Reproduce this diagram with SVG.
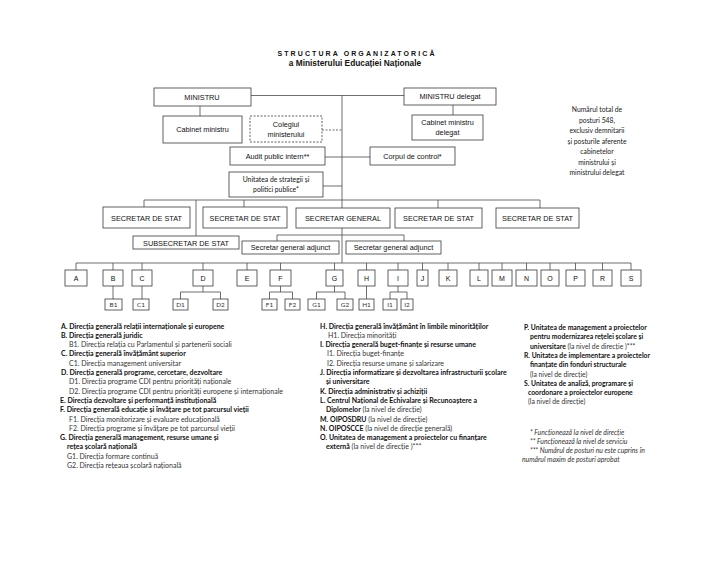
<svg xmlns="http://www.w3.org/2000/svg" width="728" height="562" viewBox="0 0 728 562">
<style>
.bx{fill:#fff;stroke:#3a3a3a;stroke-width:0.8}
.dash{fill:#fff;stroke:#3a3a3a;stroke-width:0.8;stroke-dasharray:2,1.5}
.ln{fill:none;stroke:#4a4a4a;stroke-width:0.8}
.dl{fill:none;stroke:#4a4a4a;stroke-width:0.8;stroke-dasharray:2,1.5}
.t{font-family:"Liberation Sans",Arial,sans-serif;font-size:7.3px;fill:#111;text-anchor:middle}
.tl{font-family:"Liberation Sans",Arial,sans-serif;font-size:7px;fill:#111;text-anchor:middle}
.tc{font-family:Lato,"Liberation Sans",sans-serif;font-size:6.8px;fill:#111;text-anchor:middle}
.ts{font-family:Lato,"Liberation Sans",sans-serif;font-size:6.4px;fill:#333;text-anchor:middle}
.lg{font-family:Lato,"Liberation Sans",sans-serif;font-size:7px;fill:#333}
.lr{font-size:6.8px}
.b{font-weight:bold;fill:#111}
.it{font-style:italic}
.note{font-family:Lato,"Liberation Sans",sans-serif;font-size:6.8px;fill:#222;text-anchor:middle}
.title{font-family:"Liberation Sans",Arial,sans-serif;font-weight:bold;fill:#111;text-anchor:middle}
</style>

<rect width="728" height="562" fill="#fff"/>

<text class="title" x="357" y="56" font-size="7" letter-spacing="2.1">STRUCTURA ORGANIZATORICĂ</text>
<text class="title" x="355" y="66" font-size="8.3">a Ministerului Educației Naționale</text>

<g id="connectors">
  <path class="ln" d="M251 95.5H404"/>
  <path class="ln" d="M342 95.5V208"/>
  <path class="ln" d="M342 228V263"/>
  <path class="ln" d="M200 106V116"/>
  <path class="ln" d="M453 105V115"/>
  <path class="dl" d="M322 130H342"/>
  <path class="ln" d="M325 157H370"/>
  <path class="ln" d="M323 186H342"/>
  <path class="ln" d="M144 200H540"/>
  <path class="ln" d="M144 200V207M244 200V207M196 200V236M438 200V208M540 200V208"/>
  <path class="ln" d="M277 235H404M277 235V241M404 235V241"/>
  <path class="ln" d="M76 263H631"/>
  <path class="ln" d="M76 263V270M113 263V270M142 263V270M203 263V270M247 263V270M280.5 263V270M334.5 263V270M366.5 263V270M398 263V270M422.5 263V270M448 263V270M479 263V270M502 263V270M526.5 263V270M550 263V270M575.5 263V270M602.5 263V270M631 263V270"/>
  <path class="ln" d="M113 286V299M142 286V299M366.5 286V299"/>
  <path class="ln" d="M203 286V292M180.5 292H220.5M180.5 292V299M220.5 292V299"/>
  <path class="ln" d="M280.5 286V292M269.5 292H292.5M269.5 292V299M292.5 292V299"/>
  <path class="ln" d="M334.5 286V292M316.5 292H345M316.5 292V299M345 292V299"/>
  <path class="ln" d="M398 286V292M390 292H407M390 292V299M407 292V299"/>
</g>

<g id="ministru"><rect class="bx" x="154" y="88" width="97" height="18"/><text class="t" x="202" y="99.5">MINISTRU</text></g>
<g id="ministru-delegat"><rect class="bx" x="404" y="88" width="92" height="17"/><text class="t" x="450" y="99">MINISTRU delegat</text></g>
<g id="cabinet-ministru"><rect class="bx" x="163" y="116" width="79" height="27"/><text class="t" x="202.5" y="132">Cabinet ministru</text></g>
<g id="colegiul"><rect class="dash" x="250" y="116" width="72" height="26"/><text class="t" x="286" y="126.5">Colegiul</text><text class="t" x="286" y="137">ministerului</text></g>
<g id="cabinet-delegat"><rect class="bx" x="412" y="115" width="71" height="25"/><text class="t" x="447.5" y="125">Cabinet ministru</text><text class="t" x="447.5" y="135">delegat</text></g>
<g id="audit"><rect class="bx" x="230" y="147" width="95" height="18"/><text class="t" x="277.5" y="158.5">Audit public intern**</text></g>
<g id="corpul"><rect class="bx" x="370" y="147" width="85" height="18"/><text class="t" x="412.5" y="158.5">Corpul de control*</text></g>
<g id="unitatea-strategii"><rect class="bx" x="229" y="172" width="94" height="25"/><text class="tc" x="276" y="181.5">Unitatea de strategii  și</text><text class="tc" x="276" y="191.5">politici publice*</text></g>

<g id="ss1"><rect class="bx" x="103" y="207" width="87" height="21"/><text class="t" x="146.5" y="220.5">SECRETAR DE STAT</text></g>
<g id="ss2"><rect class="bx" x="203" y="207" width="84" height="21"/><text class="t" x="245" y="220.5">SECRETAR DE STAT</text></g>
<g id="sg"><rect class="bx" x="296" y="208" width="94" height="20"/><text class="t" x="343" y="221">SECRETAR GENERAL</text></g>
<g id="ss3"><rect class="bx" x="395" y="208" width="87" height="20"/><text class="t" x="438.5" y="221">SECRETAR DE STAT</text></g>
<g id="ss4"><rect class="bx" x="496" y="208" width="83" height="20"/><text class="t" x="537.5" y="221">SECRETAR DE STAT</text></g>
<g id="subsecretar"><rect class="bx" x="133" y="236" width="106" height="13"/><text class="t" x="186" y="245.5">SUBSECRETAR DE STAT</text></g>
<g id="sga1"><rect class="bx" x="242" y="241" width="97" height="13"/><text class="t" x="290.5" y="250">Secretar general adjunct</text></g>
<g id="sga2"><rect class="bx" x="346" y="241" width="95" height="13"/><text class="t" x="393.5" y="250">Secretar general adjunct</text></g>

<g id="A"><rect class="bx" x="65" y="270" width="22" height="16"/><text class="tl" x="76" y="280.5">A</text></g>
<g id="B"><rect class="bx" x="103" y="270" width="20" height="16"/><text class="tl" x="113" y="280.5">B</text></g>
<g id="C"><rect class="bx" x="132" y="270" width="20" height="16"/><text class="tl" x="142" y="280.5">C</text></g>
<g id="D"><rect class="bx" x="193" y="270" width="20" height="16"/><text class="tl" x="203" y="280.5">D</text></g>
<g id="E"><rect class="bx" x="237" y="270" width="20" height="16"/><text class="tl" x="247" y="280.5">E</text></g>
<g id="F"><rect class="bx" x="270" y="270" width="21" height="16"/><text class="tl" x="280.5" y="280.5">F</text></g>
<g id="G"><rect class="bx" x="326" y="270" width="17" height="16"/><text class="tl" x="334.5" y="280.5">G</text></g>
<g id="H"><rect class="bx" x="358" y="270" width="17" height="16"/><text class="tl" x="366.5" y="280.5">H</text></g>
<g id="I"><rect class="bx" x="388" y="270" width="20" height="16"/><text class="tl" x="398" y="280.5">I</text></g>
<g id="J"><rect class="bx" x="417" y="270" width="11" height="16"/><text class="tl" x="422.5" y="280.5">J</text></g>
<g id="K"><rect class="bx" x="439" y="270" width="18" height="16"/><text class="tl" x="448" y="280.5">K</text></g>
<g id="L"><rect class="bx" x="470" y="270" width="18" height="16"/><text class="tl" x="479" y="280.5">L</text></g>
<g id="M"><rect class="bx" x="492" y="270" width="20" height="16"/><text class="tl" x="502" y="280.5">M</text></g>
<g id="N"><rect class="bx" x="516" y="270" width="21" height="16"/><text class="tl" x="526.5" y="280.5">N</text></g>
<g id="O"><rect class="bx" x="541" y="270" width="18" height="16"/><text class="tl" x="550" y="280.5">O</text></g>
<g id="P"><rect class="bx" x="566" y="270" width="19" height="16"/><text class="tl" x="575.5" y="280.5">P</text></g>
<g id="R"><rect class="bx" x="593" y="270" width="19" height="16"/><text class="tl" x="602.5" y="280.5">R</text></g>
<g id="S"><rect class="bx" x="621" y="270" width="20" height="16"/><text class="tl" x="631" y="280.5">S</text></g>

<g id="B1"><rect class="bx" x="105" y="299" width="17" height="11"/><text class="ts" x="113.5" y="306.8">B1</text></g>
<g id="C1"><rect class="bx" x="133" y="299" width="16" height="11"/><text class="ts" x="141" y="306.8">C1</text></g>
<g id="D1"><rect class="bx" x="173" y="299" width="15" height="11"/><text class="ts" x="180.5" y="306.8">D1</text></g>
<g id="D2"><rect class="bx" x="213" y="299" width="15" height="11"/><text class="ts" x="220.5" y="306.8">D2</text></g>
<g id="F1"><rect class="bx" x="262" y="299" width="15" height="11"/><text class="ts" x="269.5" y="306.8">F1</text></g>
<g id="F2"><rect class="bx" x="285" y="299" width="15" height="11"/><text class="ts" x="292.5" y="306.8">F2</text></g>
<g id="G1"><rect class="bx" x="308" y="299" width="17" height="11"/><text class="ts" x="316.5" y="306.8">G1</text></g>
<g id="G2"><rect class="bx" x="337" y="299" width="16" height="11"/><text class="ts" x="345" y="306.8">G2</text></g>
<g id="H1"><rect class="bx" x="359" y="299" width="15" height="11"/><text class="ts" x="366.5" y="306.8">H1</text></g>
<g id="I1"><rect class="bx" x="383" y="299" width="14" height="11"/><text class="ts" x="390" y="306.8">I1</text></g>
<g id="I2"><rect class="bx" x="401" y="299" width="12" height="11"/><text class="ts" x="407" y="306.8">I2</text></g>

<g id="note-total">
  <text class="note" x="597" y="112">Numărul total de</text>
  <text class="note" x="597" y="122.5">posturi 548,</text>
  <text class="note" x="597" y="133">exclusiv demnitarii</text>
  <text class="note" x="597" y="143.5">și posturile aferente</text>
  <text class="note" x="597" y="154">cabinetelor</text>
  <text class="note" x="597" y="164.5">ministrului și</text>
  <text class="note" x="597" y="175">ministrului delegat</text>
</g>

<g id="legend-left" class="lg">
  <text x="61" y="328.5" class="b">A. Direcția generală relații internaționale și europene</text>
  <text x="61" y="337.8" class="b">B. Direcția generală juridic</text>
  <text x="69" y="347.1">B1. Direcția relația cu Parlamentul și partenerii sociali</text>
  <text x="61" y="356.4" class="b">C. Direcția generală învățământ superior</text>
  <text x="69" y="365.7">C1. Direcția management universitar</text>
  <text x="61" y="375" class="b">D. Direcția generală programe, cercetare, dezvoltare</text>
  <text x="69" y="384.3">D1. Direcția programe CDI pentru priorități naționale</text>
  <text x="69" y="393.6">D2. Direcția programe CDI pentru priorități europene și internaționale</text>
  <text x="60" y="402.9" class="b">E.  Direcția dezvoltare și performanță instituțională</text>
  <text x="60" y="412.2" class="b">F. Direcția generală educație și învățare pe tot parcursul vieții</text>
  <text x="69" y="421.5">F1. Direcția monitorizare și evaluare educațională</text>
  <text x="69" y="430.8">F2. Direcția programe și învățare pe tot parcursul vieții</text>
  <text x="60" y="440.1" class="b">G. Direcția generală management, resurse umane și</text>
  <text x="67" y="449.4" class="b">rețea școlară națională</text>
  <text x="67" y="458.7">G1. Direcția formare continuă</text>
  <text x="67" y="468">G2. Direcția rețeaua școlară națională</text>
</g>

<g id="legend-middle" class="lg">
  <text x="320" y="328.5" class="b">H. Direcția generală învățământ în limbile minorităților</text>
  <text x="328" y="337.8">H1. Direcția minorități</text>
  <text x="320" y="347.1" class="b">I.  Direcția generală buget-finanțe și resurse umane</text>
  <text x="327" y="356.4">I1. Direcția buget-finanțe</text>
  <text x="327" y="365.7">I2. Direcția resurse umane și salarizare</text>
  <text x="320" y="375" class="b">J.  Direcția informatizare și dezvoltarea infrastructurii școlare</text>
  <text x="326" y="384.3" class="b">și universitare</text>
  <text x="320" y="393.6" class="b">K. Direcția administrativ și achiziții</text>
  <text x="320" y="402.9" class="b">L. Centrul Național de Echivalare și Recunoaștere a</text>
  <text x="326" y="412.2"><tspan class="b">Diplomelor</tspan> (la nivel de direcție)</text>
  <text x="320" y="421.5"><tspan class="b">M. OIPOSDRU</tspan> (la nivel de direcție)</text>
  <text x="320" y="430.8"><tspan class="b">N. OIPOSCCE</tspan> (la nivel de direcție generală)</text>
  <text x="320" y="440.1" class="b">O. Unitatea de management a proiectelor cu finanțare</text>
  <text x="326" y="449.4"><tspan class="b">externă</tspan> (la nivel de direcție )***</text>
</g>

<g id="legend-right" class="lg lr">
  <text x="524" y="330" class="b">P. Unitatea de management a proiectelor</text>
  <text x="530" y="339.3" class="b">pentru modernizarea rețelei școlare și</text>
  <text x="530" y="348.6"><tspan class="b">universitare</tspan> (la nivel de direcție )***</text>
  <text x="524" y="357.9" class="b">R. Unitatea de implementare a proiectelor</text>
  <text x="530" y="367.2" class="b">finanțate din fonduri structurale</text>
  <text x="530" y="376.5">(la nivel de direcție)</text>
  <text x="524" y="385.8" class="b">S. Unitatea de analiză, programare și</text>
  <text x="528" y="395.1" class="b">coordonare a proiectelor europene</text>
  <text x="528" y="404.4">(la nivel de direcție)</text>
</g>

<g id="footnotes" class="lg lr it">
  <text x="530" y="434.5">* Funcționează la nivel de direcție</text>
  <text x="530" y="443.8">** Funcționează la nivel de serviciu</text>
  <text x="530" y="453.1">*** Numărul de posturi nu este cuprins în</text>
  <text x="522" y="462.4">numărul maxim de posturi aprobat</text>
</g>
</svg>
